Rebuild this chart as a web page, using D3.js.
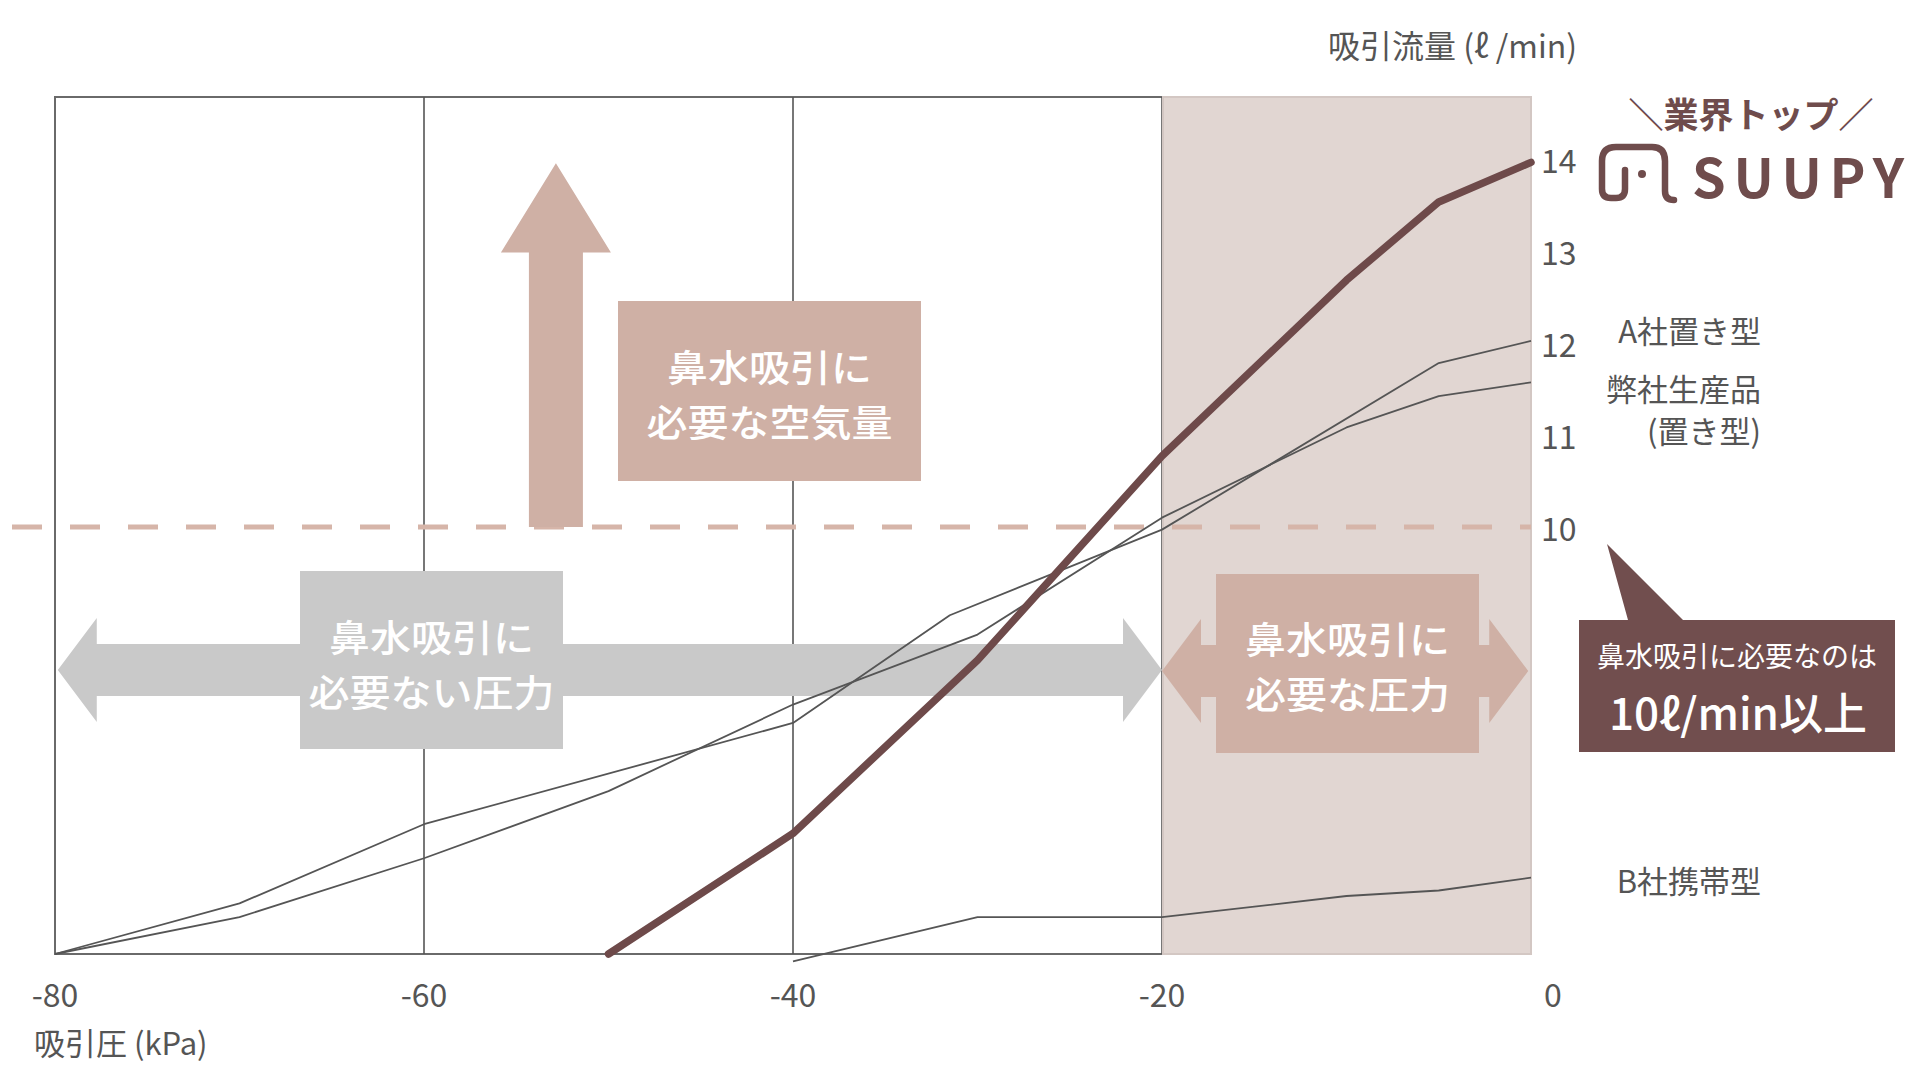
<!DOCTYPE html>
<html><head><meta charset="utf-8">
<script src="https://cdn.jsdelivr.net/npm/d3@7"></script>
<style>
html,body{margin:0;padding:0;background:#fff;}
svg{display:block;}
text{font-family:"Noto Sans CJK JP","Noto Sans",sans-serif;}
</style></head><body>
<svg id="chart" width="1920" height="1080"></svg>
<script>
// ---- data ----
const xTicks = [-80, -60, -40, -20, 0];
const yTicks = [10, 11, 12, 13, 14];
const suupyX = [-50, -40, -30, -20, -10, -5, 0];
const suupyY = [5.36, 6.67, 8.55, 10.77, 12.68, 13.53, 13.96];
const aX = [-80, -70, -60, -40, -31.5, -20, -5, 0];
const aY = [5.36, 5.91, 6.77, 7.87, 9.04, 9.97, 11.78, 12.02];
const ownX = [-80, -70, -60, -50, -40, -30, -20, -10, -5, 0];
const ownY = [5.36, 5.76, 6.40, 7.13, 8.07, 8.83, 10.10, 11.08, 11.42, 11.57];
const bX = [-40, -30, -20, -10, -5, 0];
const bY = [5.28, 5.76, 5.76, 5.99, 6.05, 6.19];
const threshold = 10;
const zone = [-20, 0];
const seriesLabels = ["A社置き型", "弊社生産品", "(置き型)", "B社携帯型"];

const svg = d3.select("#chart");
const x = d3.scaleLinear().domain([-80, 0]).range([55, 1531]);
const y = d3.scaleLinear().domain([5.36, 14.67]).range([954, 97]);
const line = d3.line().x(d => x(d[0])).y(d => y(d[1]));
const zip = (a, b) => a.map((v, i) => [v, b[i]]);

// frame
svg.append("rect").attr("x", x(-80)).attr("y", y(14.67)).attr("width", x(0) - x(-80)).attr("height", y(5.36) - y(14.67))
  .attr("fill", "none").attr("stroke", "#6a6a6a").attr("stroke-width", 2);
// grid
svg.selectAll("line.grid").data(xTicks.slice(1, 4)).join("line").attr("class", "grid")
  .attr("x1", d => x(d)).attr("x2", d => x(d)).attr("y1", y(14.67)).attr("y2", y(5.36))
  .attr("stroke", "#555").attr("stroke-width", 1.6);
// shaded zone
svg.append("rect").attr("x", x(zone[0]) + 1).attr("y", y(14.67)).attr("width", x(zone[1]) - x(zone[0]) - 1)
  .attr("height", y(5.36) - y(14.67)).attr("fill", "#e1d6d2").attr("stroke", "#d3c7c3").attr("stroke-width", 2);
// threshold dashed line
svg.append("line").attr("x1", 12).attr("x2", x(0)).attr("y1", y(threshold)).attr("y2", y(threshold))
  .attr("stroke", "#d6b5a9").attr("stroke-width", 5).attr("stroke-dasharray", "30,28");

const pink = "#cfb0a5", gray = "#c9c9c9";
// upward arrow
{
  const cx = x(-52.85), yb = y(threshold), yt = y(13.95), yh = y(12.98);
  svg.append("path").attr("fill", pink).attr("d",
    `M${cx - 27},${yb} V${yh} H${cx - 55} L${cx},${yt} L${cx + 55},${yh} H${cx + 27} V${yb} Z`);
}
// horizontal double arrow helper
function dblArrow(x0, x1, cy, col) {
  const hw = 39, hh = 52, sh = 26;
  svg.append("path").attr("fill", col).attr("d",
    `M${x0},${cy} L${x0 + hw},${cy - hh} V${cy - sh} H${x1 - hw} V${cy - hh} L${x1},${cy} L${x1 - hw},${cy + hh} V${cy + sh} H${x0 + hw} V${cy + hh} Z`);
}
dblArrow(x(-79.85), x(-20), 670, gray);
dblArrow(x(-20), x(-0.15), 671, pink);

// boxes
function box(x0, y0, x1, y1, col, lines, ly) {
  svg.append("rect").attr("x", x0).attr("y", y0).attr("width", x1 - x0).attr("height", y1 - y0).attr("fill", col);
  lines.forEach((s, i) => svg.append("text").attr("x", (x0 + x1) / 2).attr("y", ly[i])
    .attr("text-anchor", "middle").attr("dominant-baseline", "central")
    .attr("font-size", 37).attr("font-weight", 500).attr("fill", "#fff")
    .attr("textLength", s.length * 41).attr("lengthAdjust", "spacingAndGlyphs").text(s));
}
box(618, 301, 921, 481, pink, ["鼻水吸引に", "必要な空気量"], [366, 421]);
box(300, 571, 563, 749, gray, ["鼻水吸引に", "必要ない圧力"], [636, 691]);
box(1216, 574, 1479, 753, pink, ["鼻水吸引に", "必要な圧力"], [638, 693]);

// data lines
const thin = [zip(aX, aY), zip(ownX, ownY), zip(bX, bY)];
svg.selectAll("path.thin").data(thin).join("path").attr("class", "thin")
  .attr("d", line).attr("fill", "none").attr("stroke", "#555").attr("stroke-width", 1.8).attr("stroke-linejoin", "round");
svg.append("path").datum(zip(suupyX, suupyY)).attr("d", line).attr("fill", "none")
  .attr("stroke", "#6e4a4a").attr("stroke-width", 7.5).attr("stroke-linejoin", "round").attr("stroke-linecap", "round");

// tick labels
svg.selectAll("text.yt").data(yTicks).join("text").attr("class", "yt")
  .attr("x", x(0) + 10).attr("y", d => y(d)).attr("dominant-baseline", "central")
  .attr("font-size", 32).attr("fill", "#555").text(d => d);
svg.selectAll("text.xt").data(xTicks).join("text").attr("class", "xt")
  .attr("x", d => d === 0 ? x(d) + 22 : x(d)).attr("y", 993).attr("text-anchor", "middle").attr("dominant-baseline", "central")
  .attr("font-size", 32).attr("fill", "#555").text(d => d);
svg.append("text").attr("x", 34).attr("y", 1041).attr("dominant-baseline", "central")
  .attr("font-size", 31).attr("fill", "#555").text("吸引圧 (kPa)");
svg.append("text").attr("x", 1328).attr("y", 44).attr("dominant-baseline", "central")
  .attr("font-size", 32).attr("fill", "#555").text("吸引流量 (ℓ /min)");

// series labels
const labY = [y(aY[aY.length - 1]) - 11, y(ownY[ownY.length - 1]) + 5, y(ownY[ownY.length - 1]) + 47, y(bY[bY.length - 1]) + 2];
seriesLabels.forEach((t, i) => svg.append("text").attr("x", 1761).attr("y", labY[i])
  .attr("text-anchor", "end").attr("dominant-baseline", "central").attr("font-size", 31).attr("fill", "#555").text(t));

// logo
const brand = "#6f4c4c";
svg.append("text").attr("x", 1751).attr("y", 112).attr("text-anchor", "middle").attr("dominant-baseline", "central")
  .attr("font-size", 35).attr("font-weight", 700).attr("fill", brand).text("＼業界トップ／");
svg.append("path").attr("fill", "none").attr("stroke", brand).attr("stroke-width", 6.5).attr("stroke-linecap", "round").attr("stroke-linejoin", "round")
  .attr("d", "M1625,170 V189 Q1625,198 1616,198 H1611 Q1602,198 1602,189 V161 Q1602,147 1616,147 H1652 Q1665,147 1665,161 V191 Q1665,200 1674,200");
svg.append("circle").attr("cx", 1642).attr("cy", 174).attr("r", 4).attr("fill", brand);
svg.append("text").attr("x", 1692).attr("y", 198).attr("font-family", "Lato").attr("font-size", 54).attr("font-weight", 700)
  .attr("fill", brand).attr("textLength", 212).attr("lengthAdjust", "spacing").text("SUUPY");

// speech bubble
svg.append("path").attr("fill", "#714e4e").attr("d", "M1579,620 H1628 L1607,544 L1683,620 H1895 V752 H1579 Z");
svg.append("text").attr("x", 1737).attr("y", 655).attr("text-anchor", "middle").attr("dominant-baseline", "central")
  .attr("font-size", 28).attr("fill", "#fff").text("鼻水吸引に必要なのは");
svg.append("text").attr("x", 1738).attr("y", 711).attr("text-anchor", "middle").attr("dominant-baseline", "central")
  .attr("font-size", 44).attr("font-weight", 500).attr("fill", "#fff").text("10ℓ/min以上");
</script>
</body></html>
